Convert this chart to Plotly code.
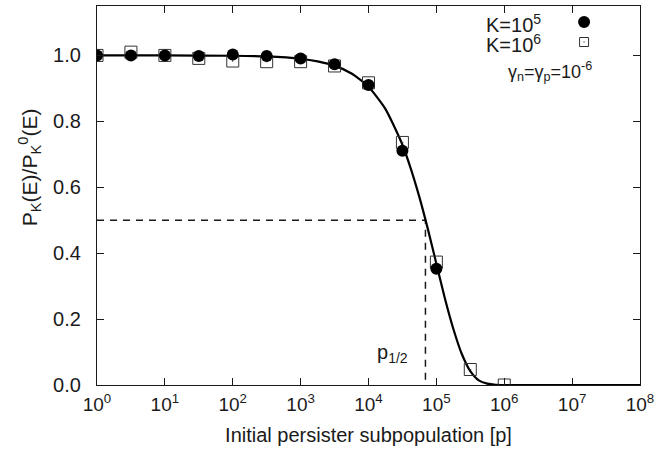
import plotly.graph_objects as go

# Sampled points: initial persister subpopulation p and survival ratio P_K(E)/P_K^0(E)
p_k5 = [1, 3.16, 10, 31.6, 100, 316, 1000, 3160, 1e4, 3.16e4, 1e5]
ratio_k5 = [1.0, 1.0, 1.0, 0.998, 1.003, 0.998, 0.991, 0.973, 0.910, 0.711, 0.353]

p_k6 = [1, 3.16, 10, 31.6, 100, 316, 1000, 3160, 1e4, 3.16e4, 1e5, 3.16e5, 1e6]
ratio_k6 = [1.0, 1.01, 1.0, 0.991, 0.983, 0.981, 0.981, 0.968, 0.917, 0.736, 0.373, 0.047, 0.0]

# Theory curve
p_curve = [1, 10, 100, 316, 1000, 1780, 3160, 5620, 1e4, 1.78e4, 3.16e4, 4.22e4,
           5.62e4, 7.5e4, 1e5, 1.33e5, 1.78e5, 2.37e5, 3.16e5, 4.22e5, 5.62e5,
           7.5e5, 1e6, 1e7, 1e8]
ratio_curve = [1.0, 1.0, 0.999, 0.997, 0.99, 0.982, 0.969, 0.945, 0.905, 0.837,
               0.729, 0.655, 0.570, 0.473, 0.368, 0.264, 0.170, 0.094, 0.042,
               0.014, 0.004, 0.0006, 0.0, 0.0, 0.0]

# Half-point marker
p_half = 6.9e4
ratio_half = 0.5

x_tickvals = [1, 10, 100, 1e3, 1e4, 1e5, 1e6, 1e7, 1e8]
x_ticktext = ["10<sup>%d</sup>" % k for k in range(9)]
y_tickvals = [0.0, 0.2, 0.4, 0.6, 0.8, 1.0]

FONT = "Liberation Sans"
INK = "#1a1a1a"

fig = go.Figure()

fig.add_trace(go.Scatter(
    x=[p_curve[0], p_half, p_half], y=[ratio_half, ratio_half, 0],
    mode="lines", line=dict(color=INK, width=1.5, dash="7px,6px"),
    showlegend=False, hoverinfo="skip"))

fig.add_trace(go.Scatter(
    x=p_curve, y=ratio_curve, mode="lines",
    line=dict(color="black", width=2.2, shape="spline", smoothing=0.6),
    showlegend=False))

fig.add_trace(go.Scatter(
    x=p_k6, y=ratio_k6, mode="markers", name="K=10^6",
    marker=dict(symbol="square-open-dot", size=12, color="#333333",
                line=dict(width=1, color="#333333")),
    showlegend=False))

fig.add_trace(go.Scatter(
    x=p_k5, y=ratio_k5, mode="markers", name="K=10^5",
    marker=dict(symbol="circle", size=12, color="black"),
    showlegend=False))

axis_common = dict(
    showline=True, linecolor=INK, linewidth=1.2, mirror="ticks",
    ticks="inside", ticklen=7, tickwidth=1, tickcolor=INK,
    showgrid=False, zeroline=False,
)

fig.update_xaxes(
    type="log", range=[0, 8], tickvals=x_tickvals, ticktext=x_ticktext,
    ticklabelstandoff=2, tickfont=dict(family=FONT, size=19, color=INK),
    title=dict(text="Initial persister subpopulation [p]",
               font=dict(family=FONT, size=20, color=INK), standoff=14),
    **axis_common)
fig.update_yaxes(
    range=[0, 1.15], tickvals=y_tickvals, tickformat=".1f",
    ticklabelstandoff=11, tickfont=dict(family=FONT, size=20, color=INK),
    **axis_common)

# Vertical axis title
fig.add_annotation(xref="paper", yref="paper", x=-0.125, y=0.575,
                   xanchor="center", yanchor="middle", showarrow=False,
                   textangle=-90,
                   text="P<sub>K</sub>(E)/P<sub>K</sub><sup>0</sup>(E)",
                   font=dict(family=FONT, size=21, color=INK))

# Key: labels on the left, symbols on the right
fig.add_annotation(xref="paper", yref="paper", x=0.821, y=0.953,
                   xanchor="right", yanchor="middle", showarrow=False,
                   text="K=10<sup>5</sup>", font=dict(family=FONT, size=20, color=INK))
fig.add_annotation(xref="paper", yref="paper", x=0.821, y=0.902,
                   xanchor="right", yanchor="middle", showarrow=False,
                   text="K=10<sup>6</sup>", font=dict(family=FONT, size=20, color=INK))
fig.add_shape(type="circle", xref="paper", yref="paper", xsizemode="pixel",
              ysizemode="pixel", xanchor=0.897, yanchor=0.958,
              x0=-6, x1=6, y0=-6, y1=6, fillcolor="black", line=dict(width=0))
fig.add_shape(type="rect", xref="paper", yref="paper", xsizemode="pixel",
              ysizemode="pixel", xanchor=0.897, yanchor=0.905,
              x0=-4.5, x1=4.5, y0=-4.5, y1=4.5, line=dict(width=1, color="#333333"))
fig.add_shape(type="rect", xref="paper", yref="paper", xsizemode="pixel",
              ysizemode="pixel", xanchor=0.897, yanchor=0.905,
              x0=-0.6, x1=0.6, y0=-0.6, y1=0.6, fillcolor="#333333",
              line=dict(width=0))
fig.add_annotation(xref="paper", yref="paper", x=0.835, y=0.826,
                   xanchor="center", yanchor="middle", showarrow=False,
                   text="γ<sub>n</sub>=γ<sub>p</sub>=10<sup>-6</sup>",
                   font=dict(family=FONT, size=18, color=INK))
fig.add_annotation(x=4.35, y=0.095, xref="x", yref="y",
                   xanchor="center", yanchor="middle", showarrow=False,
                   text="p<sub>1/2</sub>", font=dict(family=FONT, size=20, color=INK))

fig.update_layout(
    width=659, height=455,
    margin=dict(l=97, r=16, t=5, b=70),
    plot_bgcolor="white", paper_bgcolor="white",
    font=dict(family=FONT, color=INK),
)

fig.write_html("out.html")
